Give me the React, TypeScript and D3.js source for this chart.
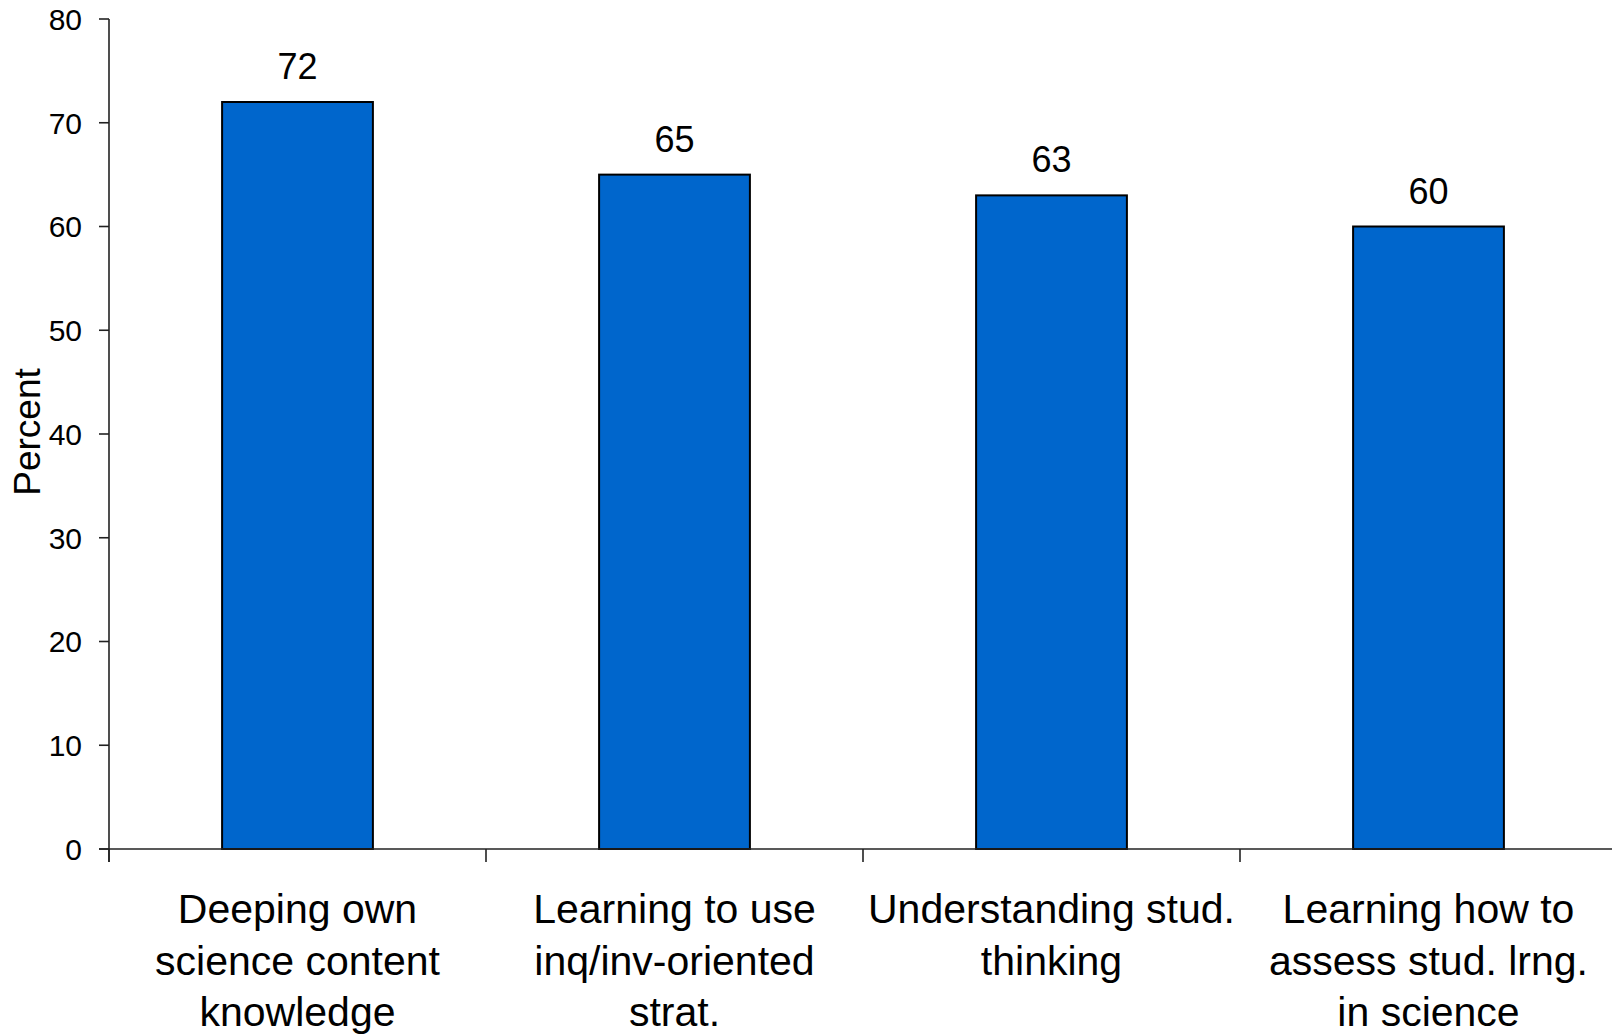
import React from "react";
import * as d3 from "d3";

const categories: string[][] = [
  ["Deeping own", "science content", "knowledge"],
  ["Learning to use", "inq/inv-oriented", "strat."],
  ["Understanding stud.", "thinking"],
  ["Learning how to", "assess stud. lrng.", "in science"],
];
const values: number[] = [72, 65, 63, 60];
const yTicks: number[] = [0, 10, 20, 30, 40, 50, 60, 70, 80];
const yLabel = "Percent";

const W = 1612;
const H = 1034;
const FONT = "'Liberation Sans', Arial, sans-serif";

export default function App() {
  const idx = categories.map((_, i) => String(i));
  const x = d3.scaleBand<string>().domain(idx).range([109, 1617]).paddingInner(0).paddingOuter(0);
  const y = d3.scaleLinear().domain([0, 80]).range([849, 19]);
  const bw = x.bandwidth() * 0.4;
  const y0 = y(0);

  return (
    <svg width={W} height={H} style={{ position: "absolute", left: 0, top: 0, background: "#fff" }}>
      {/* bars */}
      {values.map((v, i) => {
        const cx = (x(String(i)) as number) + x.bandwidth() / 2;
        return (
          <g key={i}>
            <rect x={cx - bw / 2} y={y(v)} width={bw} height={y0 - y(v)} fill="#0066CC" stroke="#000" strokeWidth={2} />
            <text x={cx} y={y(v) - 23} textAnchor="middle" fontFamily={FONT} fontSize={36} fill="#000">
              {v}
            </text>
          </g>
        );
      })}
      {/* y axis */}
      <line x1={109} x2={109} y1={y(80)} y2={y0 + 13} stroke="#222" strokeWidth={1.6} />
      {yTicks.map((t) => (
        <g key={t}>
          <line x1={99} x2={109} y1={y(t)} y2={y(t)} stroke="#222" strokeWidth={1.6} />
          <text x={82} y={y(t)} dy="0.36em" textAnchor="end" fontFamily={FONT} fontSize={30} fill="#000">
            {t}
          </text>
        </g>
      ))}
      {/* x axis */}
      <line x1={99} x2={W} y1={y0} y2={y0} stroke="#222" strokeWidth={1.6} />
      {idx.map((k) => (
        <line key={k} x1={x(k) as number} x2={x(k) as number} y1={y0} y2={y0 + 13} stroke="#222" strokeWidth={1.6} />
      ))}
      {/* category labels */}
      {categories.map((lines, i) => {
        const cx = (x(String(i)) as number) + x.bandwidth() / 2;
        return (
          <text key={i} textAnchor="middle" fontFamily={FONT} fontSize={41} fill="#000">
            {lines.map((ln, j) => (
              <tspan key={j} x={cx} y={y0 + 74 + j * 51.5}>
                {ln}
              </tspan>
            ))}
          </text>
        );
      })}
      {/* y label */}
      <text
        transform={`translate(40, 432) rotate(-90)`}
        textAnchor="middle"
        fontFamily={FONT}
        fontSize={37}
        fill="#000"
      >
        {yLabel}
      </text>
    </svg>
  );
}
